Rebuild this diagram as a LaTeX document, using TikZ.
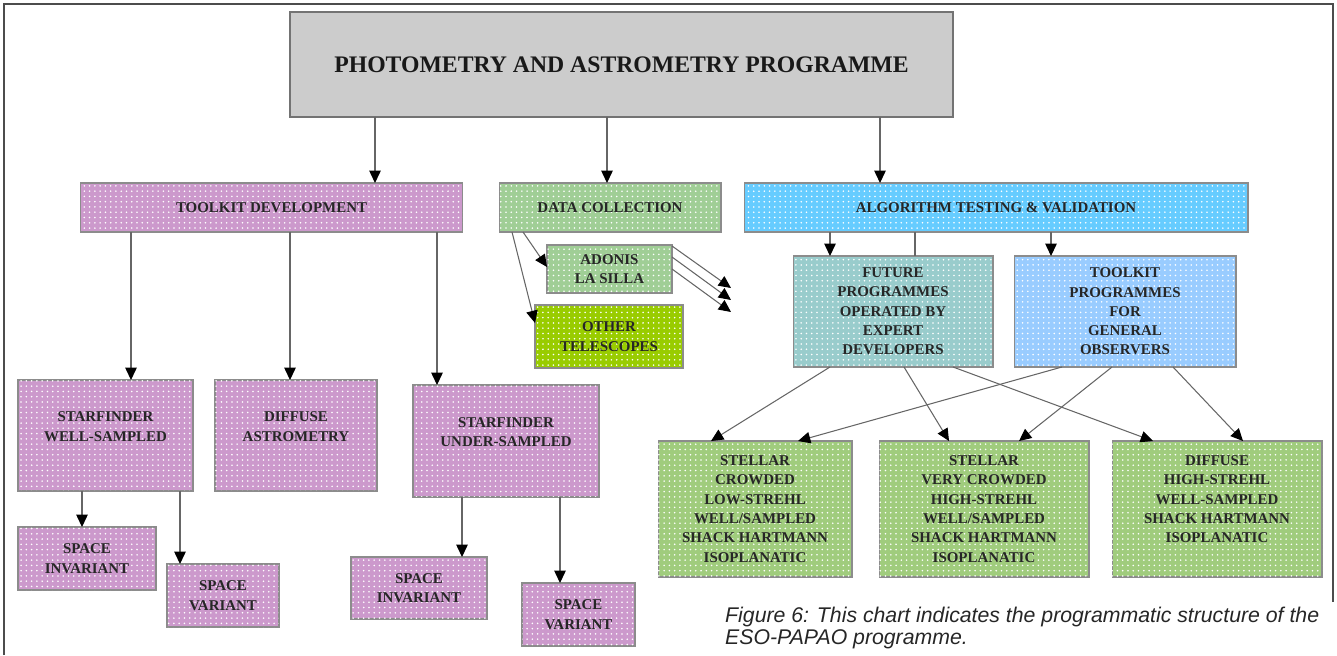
\documentclass[tikz,border=0pt]{standalone}
\usepackage{fontspec}
\setmainfont{Liberation Serif}
\setsansfont{Liberation Sans}
\usetikzlibrary{arrows.meta,patterns}

\definecolor{titlefill}{RGB}{204,204,204}
\definecolor{pinkfill}{RGB}{204,153,204}
\definecolor{sagefill}{RGB}{160,206,150}
\definecolor{limefill}{RGB}{153,204,0}
\definecolor{skyfill}{RGB}{102,204,255}
\definecolor{tealfill}{RGB}{153,204,204}
\definecolor{paleblue}{RGB}{153,204,255}
\definecolor{leaffill}{RGB}{160,204,125}

\begin{document}
\begin{tikzpicture}[x=0.02cm,y=-0.02cm,>={Triangle[length=7pt,width=6.5pt,color=black]}]
	\tikzset{
		box/.style={rectangle,draw=black!45,line width=0.6pt,inner sep=1pt,outer sep=0pt,
			align=center,text=black!85,font=\bfseries\fontsize{8.5}{11}\selectfont,
			postaction={pattern=dots,pattern color=white}},
		titlebox/.style={rectangle,draw=black!55,line width=1pt,fill=titlefill,outer sep=0pt,
			text=black!90,font=\bfseries\fontsize{13.5}{16}\selectfont},
		pinkbox/.style={box,fill=pinkfill},
		sagebox/.style={box,fill=sagefill},
		leafbox/.style={box,fill=leaffill,minimum width=4.20cm,minimum height=2.72cm},
		link/.style={draw=black!60,line width=0.6pt},
		caption/.style={align=left,text=black!85,font=\sffamily\itshape\fontsize{12.1}{13}\selectfont}
	}
	\useasboundingbox (0,0) rectangle (1337,655);
	% frame
	\draw[black!70,line width=0.8pt] (4,655) -- (4,4) -- (1333,4) -- (1333,602);

	% top row
	\node[titlebox,minimum width=13.26cm,minimum height=2.10cm] (title) at (621.5,64.5) {PHOTOMETRY AND ASTROMETRY PROGRAMME};
	\node[pinkbox,minimum width=7.66cm,minimum height=0.98cm] (tdev) at (271.5,207.5) {TOOLKIT DEVELOPMENT};
	\node[sagebox,minimum width=4.44cm,minimum height=0.98cm] (dcoll) at (610,207.5) {DATA COLLECTION};
	\node[box,fill=skyfill,minimum width=10.08cm,minimum height=0.98cm] (algo) at (996,207.5) {ALGORITHM TESTING \& VALIDATION};

	% data collection
	\node[sagebox,minimum width=2.50cm,minimum height=0.96cm] (adonis) at (609.5,269) {ADONIS\\LA SILLA};
	\node[box,fill=limefill,minimum width=2.96cm,minimum height=1.26cm] (other) at (609,336.5) {OTHER\\TELESCOPES};
	\coordinate (free1) at (731,288);
	\coordinate (free2) at (731,300);
	\coordinate (free3) at (731,312);

	% toolkit branch
	\node[pinkbox,minimum width=3.50cm,minimum height=2.22cm] (swell) at (105.5,435.5) {STARFINDER\\WELL-SAMPLED\\[-1pt]};
	\node[pinkbox,minimum width=3.24cm,minimum height=2.22cm] (diffast) at (296,435.5) {DIFFUSE\\ASTROMETRY\\[-1pt]};
	\node[pinkbox,minimum width=3.72cm,minimum height=2.24cm] (sunder) at (506,441) {STARFINDER\\UNDER-SAMPLED\\[-1pt]};
	\node[pinkbox,minimum width=2.76cm,minimum height=1.26cm] (sinvA) at (87,558.5) {SPACE\\INVARIANT};
	\node[pinkbox,minimum width=2.24cm,minimum height=1.26cm] (svarA) at (223,595.5) {SPACE\\VARIANT};
	\node[pinkbox,minimum width=2.72cm,minimum height=1.24cm] (sinvB) at (419,588) {SPACE\\INVARIANT};
	\node[pinkbox,minimum width=2.26cm,minimum height=1.26cm] (svarB) at (578.5,614.5) {SPACE\\VARIANT};

	% testing branch
	\node[box,fill=tealfill,minimum width=4.00cm,minimum height=2.22cm] (future) at (893,311.5) {FUTURE\\PROGRAMMES\\OPERATED BY\\EXPERT\\DEVELOPERS};
	\node[box,fill=paleblue,minimum width=4.44cm,minimum height=2.22cm] (tprog) at (1125,311.5) {TOOLKIT\\PROGRAMMES\\FOR\\GENERAL\\OBSERVERS};
	\node[leafbox,minimum width=3.88cm] (bone) at (755,509) {STELLAR\\CROWDED\\LOW-STREHL\\WELL/SAMPLED\\SHACK HARTMANN\\ISOPLANATIC};
	\node[leafbox] (btwo) at (984,509) {STELLAR\\VERY CROWDED\\HIGH-STREHL\\WELL/SAMPLED\\SHACK HARTMANN\\ISOPLANATIC};
	\node[leafbox] (bthree) at (1217,509) {DIFFUSE\\HIGH-STREHL\\WELL-SAMPLED\\SHACK HARTMANN\\ISOPLANATIC\\\mbox{}};

	\node[caption,anchor=west] (cap) at (719,628) {Figure 6: This chart indicates the programmatic structure of the\\ESO-PAPAO programme.};

	% connectors
	\draw[link,->] (title.south -| 375,0) -- (tdev.north -| 375,0);
	\draw[link,->] (title.south -| 607,0) -- (dcoll.north -| 607,0);
	\draw[link,->] (title.south -| 880,0) -- (algo.north -| 880,0);
	\draw[link,->] (tdev.south -| 131,0) -- (swell.north -| 131,0);
	\draw[link,->] (tdev.south -| 290,0) -- (diffast.north -| 290,0);
	\draw[link,->] (tdev.south -| 437,0) -- (sunder.north -| 437,0);
	\draw[link,->] (swell.south -| 82,0) -- (sinvA.north -| 82,0);
	\draw[link,->] (swell.south -| 180,0) -- (svarA.north -| 180,0);
	\draw[link,->] (sunder.south -| 462,0) -- (sinvB.north -| 462,0);
	\draw[link,->] (sunder.south -| 560,0) -- (svarB.north -| 560,0);
	\draw[link,->] (dcoll.south -| 523,0) -- (adonis.west |- 0,267);
	\draw[link,->] (dcoll.south -| 512,0) -- (other.west |- 0,323);
	\draw[link,->] (adonis.east |- 0,246) -- (free1);
	\draw[link,->] (adonis.east |- 0,257) -- (free2);
	\draw[link,->] (adonis.east |- 0,269) -- (free3);
	\draw[link,->] (algo.south -| 830,0) -- (future.north -| 830,0);
	\draw[link] (algo.south -| 915,0) -- (future.north -| 915,0);
	\draw[link,->] (algo.south -| 1051,0) -- (tprog.north -| 1051,0);
	\draw[link,->] (future.south -| 830,0) -- (bone.north -| 711,0);
	\draw[link,->] (future.south -| 904,0) -- (btwo.north -| 949,0);
	\draw[link,->] (future.south -| 953,0) -- (bthree.north -| 1153,0);
	\draw[link,->] (tprog.south -| 1062,0) -- (bone.north -| 798,0);
	\draw[link,->] (tprog.south -| 1112,0) -- (btwo.north -| 1019,0);
	\draw[link,->] (tprog.south -| 1173,0) -- (bthree.north -| 1243,0);
\end{tikzpicture}
\end{document}
